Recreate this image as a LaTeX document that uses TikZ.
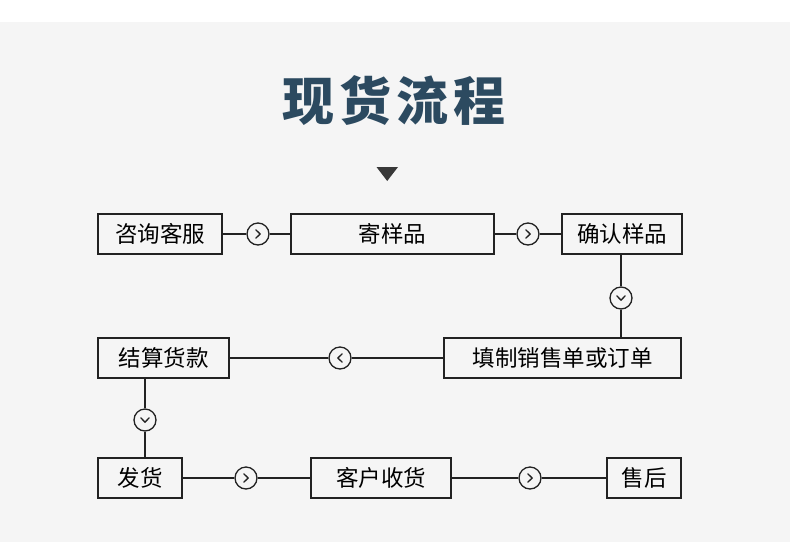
\documentclass[tikz,border=0pt]{standalone}
\usepackage{fontspec}
\newfontfamily\cjk{Noto Sans CJK SC}
\usetikzlibrary{shapes, arrows}
\definecolor{bggray}{RGB}{245,245,245}
\definecolor{titleblue}{RGB}{44,74,96}
\definecolor{ink}{RGB}{34,34,34}
\tikzstyle{stepbox} = [draw=ink, line width=1.2pt, fill=bggray, inner sep=0pt, minimum height=40pt, font=\cjk\fontsize{22.5}{22.5}\selectfont]
\tikzstyle{turn} = [draw=ink, line width=1.3pt, circle, fill=bggray, inner sep=0pt, minimum size=22pt]
\tikzstyle{link} = [draw=ink, line width=1.2pt]
\tikzset{chev/.pic={\draw[ink, line width=1.3pt, line cap=round, line join=round] (-2.2,-4.2) -- (2.2,0) -- (-2.2,4.2);}}

\begin{document}
\begin{tikzpicture}[x=1pt, y=-1pt]

                    % Background
                    \fill[bggray] (0,0) rectangle (790,542);
                    \fill[white] (0,0) rectangle (790,22);
                    \useasboundingbox (0,0) rectangle (790,542);

                    % Title
                    \node[text=titleblue, font=\cjk\bfseries\fontsize{52}{52}\selectfont] (title) at (394,101) {现\hspace{5pt}货\hspace{5pt}流\hspace{5pt}程};
                    \fill[ink!90] (376.5,167) -- (398,167) -- (387.2,181) -- cycle;

                    % Steps
                    \node[stepbox, minimum width=124pt] (consult) at (160,234) {咨询客服};
                    \node[stepbox, minimum width=203pt] (sample) at (392.5,234) {寄样品};
                    \node[stepbox, minimum width=120pt] (confirm) at (622,234) {确认样品};
                    \node[stepbox, minimum width=237pt] (order) at (562.5,358) {填制销售单或订单};
                    \node[stepbox, minimum width=131pt] (settle) at (163.5,358) {结算货款};
                    \node[stepbox, minimum width=84pt] (ship) at (140,478) {发货};
                    \node[stepbox, minimum width=140pt] (receive) at (381,478) {客户收货};
                    \node[stepbox, minimum width=74pt] (after) at (644,478) {售后};

                    % Turns
                    \node[turn] (t1) at (258,234) {};
                    \node[turn] (t2) at (528,234) {};
                    \node[turn] (t3) at (621,298) {};
                    \node[turn] (t4) at (340,358) {};
                    \node[turn] (t5) at (145,420) {};
                    \node[turn] (t6) at (246,478) {};
                    \node[turn] (t7) at (530,478) {};

                    % Links
                    \draw[link] (consult) -- (t1) -- (sample);
                    \draw[link] (sample) -- (t2) -- (confirm);
                    \draw[link] (t3 |- confirm.south) -- (t3) -- (t3 |- order.north);
                    \draw[link] (order) -- (t4) -- (settle);
                    \draw[link] (t5 |- settle.south) -- (t5) -- (t5 |- ship.north);
                    \draw[link] (ship) -- (t6) -- (receive);
                    \draw[link] (receive) -- (t7) -- (after);

                    % Chevrons
                    \pic at (t1) {chev};
                    \pic at (t2) {chev};
                    \pic[rotate=-90] at (t3) {chev};
                    \pic[rotate=180] at (t4) {chev};
                    \pic[rotate=-90] at (t5) {chev};
                    \pic at (t6) {chev};
                    \pic at (t7) {chev};

                \end{tikzpicture}
\end{document}
